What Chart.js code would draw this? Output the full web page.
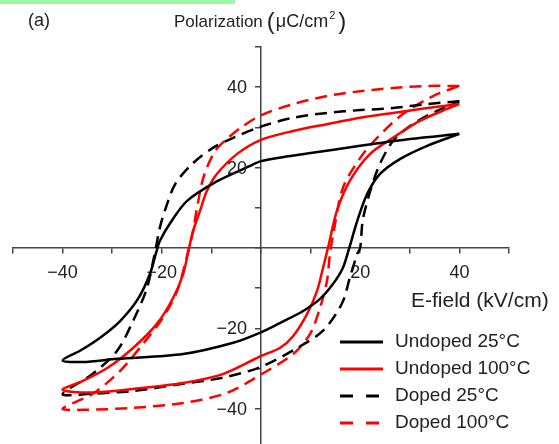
<!DOCTYPE html>
<html>
<head>
<meta charset="utf-8">
<script src="https://cdn.jsdelivr.net/npm/chart.js@4/dist/chart.umd.min.js"></script>
<style>
  html, body { margin: 0; padding: 0; background: #fff; }
  #wrap { position: relative; width: 559px; height: 444px; overflow: hidden; }
</style>
</head>
<body>
<div id="wrap"><canvas id="c" width="559" height="444"></canvas></div>
<script>
// P–E hysteresis loops: each loop runs from +40 kV/cm along the upper branch
// down to -40 kV/cm, then back along the lower branch.
const undoped25E = [40, 30, 20, 10, 0, -2.2, -9, -14.9, -18.3, -20.4, -21.1, -22.4, -24.8, -28.4, -32.5, -36.5, -40,
                    -36, -29, -15.7, -5.6, 0, 3.8, 8.5, 11.9, 14.5, 16.5, 17.8, 19.4, 21.4, 24, 28, 33.5, 40];
const undoped25P = [28.4, 27.1, 25.4, 23.6, 21.6, 20.4, 16.5, 11.7, 6.2, 1.7, -1.0, -6.5, -12.7, -18.2, -22.4, -25.6, -28.0,
                    -28.4, -27.6, -26.4, -23.6, -21.0, -18.7, -15.7, -12.7, -9.0, -5.0, 0, 6.7, 13.4, 18.4, 22.1, 25.4, 28.4];

const undoped100E = [40, 33.5, 26.6, 20, 13.3, 6.5, 0, -4.8, -8.9, -10.9, -12.3, -13.7, -14.5, -15.7, -17.7, -21, -25.8, -31, -35.9, -40,
                     -34.5, -25.8, -15.7, -7.7, 0, 3.8, 6.5, 9.3, 11.3, 12.5, 13.5, 15.3, 17.9, 22, 26.6, 32, 37.5, 40];
const undoped100P = [35.8, 34.8, 33.6, 32.4, 30.8, 29.1, 26.9, 23.4, 18.4, 14.2, 9.2, 4.2, 0, -6.5, -12.4, -18.9, -24.9, -29.9, -33.1, -35.3,
                     -36.0, -35.1, -33.6, -31.4, -26.9, -24.9, -21.9, -16.4, -10.7, -5.0, 0, 9.2, 16.7, 23.4, 27.4, 31.6, 34.6, 35.8];

const doped25E = [40, 33.5, 26.6, 20, 13.3, 6.5, 0, -5.6, -9.7, -13.7, -17.3, -19.4, -20.4, -21.2, -23, -25.8, -29, -33.9, -40,
                  -34.5, -25.8, -15.7, -7.7, 0, 7.3, 12.5, 16.3, 17.9, 19.4, 20, 20.6, 23.4, 26.6, 30.6, 35.5, 40];
const doped25P = [36.5, 35.8, 34.8, 34.3, 33.6, 32.4, 30.2, 27.4, 24.9, 21.1, 15.9, 9.2, 5.0, 0, -10.0, -18.2, -25.6, -31.3, -36.4,
                  -36.3, -35.6, -33.8, -32.3, -29.6, -24.9, -20.6, -13.9, -7.5, -1.5, 0, 7.5, 19.2, 26.6, 30.8, 34.1, 36.5];

const doped100E = [40, 33.5, 26.6, 20, 13.3, 6.5, 0, -4, -7, -9.3, -11.5, -12.9, -13.7, -14.5, -16.9, -19.8, -23.8, -28.4, -33.9, -40,
                   -35.9, -25.8, -15.7, -6.9, 0, 6.5, 9.9, 11.9, 13.3, 13.9, 14.5, 16.5, 20, 23.4, 28.6, 34.7, 40];
const doped100P = [40.3, 40.3, 39.8, 39.0, 37.8, 35.8, 33.0, 30.0, 27.0, 24.0, 18.0, 10.0, 4.2, 0, -10.7, -17.4, -23.9, -30.6, -36.3, -40.0,
                   -40.3, -39.8, -38.6, -36.1, -31.5, -26.4, -21.4, -14.9, -8.2, -1.5, 3.0, 14.9, 22.4, 27.4, 33.3, 37.8, 40.3];

const seriesNames = ['Undoped 25°C', 'Undoped 100°C', 'Doped 25°C', 'Doped 100°C'];
const labeledTicks = [-40, -20, 20, 40];

function toPoints(xs, ys) { return xs.map((x, i) => ({ x: x, y: ys[i] })); }
function tickText(v) { return v < 0 ? '\u2212' + Math.abs(v) : String(v); }

const FONT = 'Liberation Sans, Arial, sans-serif';

function loop(label, xs, ys, color, dashed) {
  return {
    label: label,
    data: toPoints(xs, ys),
    borderColor: color,
    backgroundColor: color,
    borderWidth: 2.5,
    borderDash: dashed ? [12, 7] : [],
    showLine: true,
    pointRadius: 0,
    tension: 0.3,
    fill: false
  };
}

// Top accent strip, panel tag, axis titles, y tick labels and the legend box.
const decorations = {
  id: 'decorations',
  afterDraw(chart) {
    const ctx = chart.ctx;
    const xs = chart.scales.x, ys = chart.scales.y;
    ctx.save();
    ctx.fillStyle = '#9ef79e';
    ctx.fillRect(0, 0, 235, 4);

    ctx.fillStyle = '#222';
    ctx.textBaseline = 'middle';

    // y tick labels sit to the left of the centred axis
    ctx.textAlign = 'right';
    ctx.font = '18px ' + FONT;
    const axisX = xs.getPixelForValue(0);
    labeledTicks.forEach(v => {
      ctx.fillText(tickText(v), axisX - 14, ys.getPixelForValue(v) + 1);
    });

    ctx.textAlign = 'left';
    ctx.font = '18px ' + FONT;
    ctx.fillText('(a)', 28, 21);

    // Polarization (μC/cm²)
    let x = 174;
    const y = 22;
    ctx.font = '17px ' + FONT;
    ctx.fillText('Polarization', x, y); x += ctx.measureText('Polarization').width + 4;
    ctx.font = '24px ' + FONT;
    ctx.fillText('(', x, y); x += ctx.measureText('(').width + 1;
    ctx.font = '18px ' + FONT;
    ctx.fillText('\u03bcC/cm', x, y); x += ctx.measureText('\u03bcC/cm').width + 1;
    ctx.font = '11px ' + FONT;
    ctx.fillText('2', x, y - 6); x += ctx.measureText('2').width + 3;
    ctx.font = '24px ' + FONT;
    ctx.fillText(')', x, y);

    ctx.font = '21px ' + FONT;
    ctx.fillText('E-field (kV/cm)', 411, 301);

    // legend
    const rows = [342, 369, 396, 423];
    chart.data.datasets.forEach((ds, i) => {
      const ry = rows[i];
      ctx.beginPath();
      ctx.strokeStyle = ds.borderColor;
      ctx.lineWidth = 3;
      ctx.setLineDash(ds.borderDash.length ? [13, 13] : []);
      ctx.moveTo(340, ry);
      ctx.lineTo(383, ry);
      ctx.stroke();
      ctx.setLineDash([]);
      ctx.fillStyle = '#222';
      ctx.font = '19px ' + FONT;
      ctx.fillText(ds.label, 395, ry);
    });
    ctx.restore();
  }
};

new Chart(document.getElementById('c'), {
  type: 'scatter',
  data: {
    datasets: [
      loop(seriesNames[0], undoped25E, undoped25P, '#000000', false),
      loop(seriesNames[1], undoped100E, undoped100P, '#ff0000', false),
      loop(seriesNames[2], doped25E, doped25P, '#000000', true),
      loop(seriesNames[3], doped100E, doped100P, '#ff0000', true)
    ]
  },
  options: {
    responsive: false,
    animation: false,
    layout: { padding: { left: 13, right: 50, top: 47, bottom: 0 } },
    plugins: { legend: { display: false }, tooltip: { enabled: false } },
    scales: {
      x: {
        type: 'linear',
        position: { y: 0 },
        min: -50, max: 50,
        afterBuildTicks(axis) { axis.ticks = axis.ticks.filter(t => t.value % 10 === 0); },
        ticks: {
          stepSize: 10,
          autoSkip: false,
          maxRotation: 0,
          padding: 9,
          color: '#222',
          font: { family: FONT, size: 18 },
          callback: v => labeledTicks.includes(v) ? tickText(v) : ''
        },
        grid: { drawOnChartArea: false, drawTicks: true, tickLength: 5, color: '#444', lineWidth: 1.5 },
        border: { display: true, color: '#444', width: 1.5 }
      },
      y: {
        type: 'linear',
        position: { x: 0 },
        min: -48.8, max: 50,
        afterBuildTicks(axis) { axis.ticks = axis.ticks.filter(t => t.value % 10 === 0); },
        ticks: { stepSize: 10, display: false },
        grid: { drawOnChartArea: false, drawTicks: true, tickLength: 5, color: '#444', lineWidth: 1.5 },
        border: { display: true, color: '#444', width: 1.5 }
      }
    }
  },
  plugins: [decorations]
});
</script>
</body>
</html>
